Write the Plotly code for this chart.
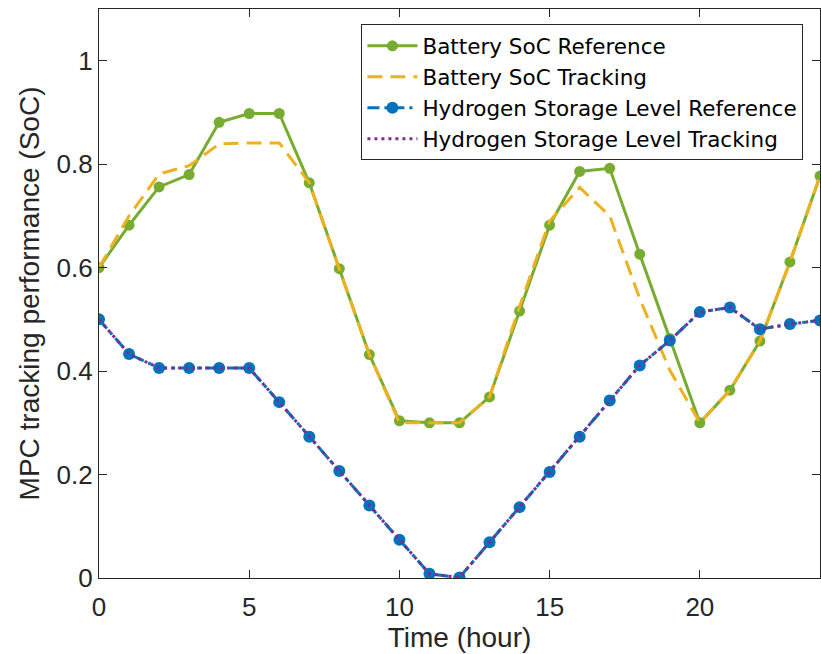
import plotly.graph_objects as go

hours = list(range(25))
battery_ref = [0.600, 0.682, 0.756, 0.780, 0.881, 0.898, 0.898, 0.764, 0.598, 0.432,
               0.304, 0.300, 0.300, 0.350, 0.516, 0.682, 0.786, 0.792, 0.626, 0.463,
               0.300, 0.363, 0.458, 0.611, 0.777]
battery_trk = [0.600, 0.700, 0.781, 0.797, 0.839, 0.841, 0.841, 0.764, 0.597, 0.432,
               0.300, 0.300, 0.300, 0.350, 0.525, 0.690, 0.755, 0.700, 0.540, 0.402,
               0.300, 0.363, 0.458, 0.611, 0.777]
h2_ref = [0.500, 0.433, 0.406, 0.406, 0.406, 0.406, 0.340, 0.273, 0.207, 0.140,
          0.074, 0.008, 0.001, 0.069, 0.137, 0.205, 0.273, 0.343, 0.411, 0.459,
          0.514, 0.523, 0.481, 0.491, 0.498]
h2_trk = [0.500, 0.433, 0.406, 0.406, 0.406, 0.406, 0.340, 0.273, 0.207, 0.140,
          0.074, 0.008, 0.001, 0.069, 0.137, 0.205, 0.273, 0.343, 0.411, 0.459,
          0.514, 0.523, 0.481, 0.491, 0.498]
x_ticks = [0, 5, 10, 15, 20]
y_ticks = [0, 0.2, 0.4, 0.6, 0.8, 1]
y_tick_text = ["0", "0.2", "0.4", "0.6", "0.8", "1"]

FONT = "Liberation Sans, Arial, Helvetica, sans-serif"
LEGEND_FONT = "DejaVu Sans, Liberation Sans, sans-serif"
AX = "#262626"

fig = go.Figure()
fig.add_trace(go.Scatter(x=hours, y=battery_ref, mode="lines+markers",
                         name="Battery SoC Reference",
                         line=dict(color="#77AC30", width=3),
                         marker=dict(symbol="circle", size=11, color="#77AC30")))
fig.add_trace(go.Scatter(x=hours, y=battery_trk, mode="lines",
                         name="Battery SoC Tracking",
                         line=dict(color="#EDB120", width=3, dash="15px,8px")))
fig.add_trace(go.Scatter(x=hours, y=h2_ref, mode="lines+markers",
                         name="Hydrogen Storage Level Reference",
                         line=dict(color="#0072BD", width=3, dash="12px,5px,3px,5px"),
                         marker=dict(symbol="circle", size=12, color="#0072BD")))
fig.add_trace(go.Scatter(x=hours, y=h2_trk, mode="lines",
                         name="Hydrogen Storage Level Tracking",
                         line=dict(color="#7E2F8E", width=3, dash="3px,4px")))

fig.update_layout(
    width=821, height=654,
    margin=dict(l=99, r=1, t=9, b=76, autoexpand=False),
    paper_bgcolor="white", plot_bgcolor="white",
    font=dict(family=FONT, color=AX, size=26),
    showlegend=True,
    legend=dict(x=0.977, y=0.973, xanchor="right", yanchor="top",
                bgcolor="white", bordercolor=AX, borderwidth=1,
                font=dict(family=LEGEND_FONT, size=21.5, color="black"),
                itemwidth=50, tracegroupgap=0),
)
fig.update_xaxes(range=[0, 24], tickvals=x_ticks, ticks="inside", ticklen=8,
                 tickcolor=AX, showline=True, linecolor=AX, linewidth=1.3,
                 mirror="ticks", showgrid=False, zeroline=False, automargin=False,
                 tickfont=dict(size=26, color=AX), ticklabelstandoff=6,
                 title=dict(text="Time (hour)", font=dict(size=28, color=AX), standoff=6))
fig.update_yaxes(range=[0, 1.1], tickvals=y_ticks, ticktext=y_tick_text,
                 ticks="inside", ticklen=8, tickcolor=AX, showline=True,
                 linecolor=AX, linewidth=1.3, mirror="ticks", showgrid=False,
                 zeroline=False, automargin=False, tickfont=dict(size=26, color=AX),
                 title=dict(text="MPC tracking performance (SoC)",
                            font=dict(size=28, color=AX), standoff=8))

fig.write_html("out.html", config={"displayModeBar": False},
               post_script="document.body.style.margin='0';document.body.style.padding='0';")
